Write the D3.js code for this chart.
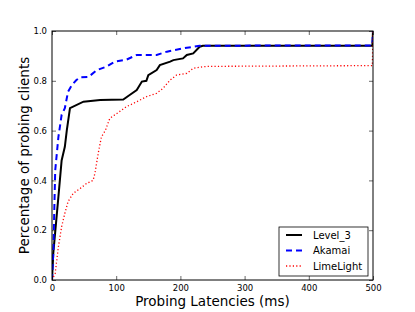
<!DOCTYPE html>
<html>
<head>
<meta charset="utf-8">
<script src="https://cdn.jsdelivr.net/npm/d3@7"></script>
<style>
  body { margin: 0; background: #fff; }
  text { font-family: "DejaVu Sans", sans-serif; }
</style>
</head>
<body>
<div id="chart"></div>
<script>
// latency (ms) and cumulative fraction
var level3X = [0, 2, 10, 15, 20, 23, 28, 49, 75, 111, 121, 132, 140, 147, 150, 163, 168, 184, 189, 204, 210, 220, 230, 235, 499, 500];
var level3Y = [0, 0.108, 0.335, 0.48, 0.535, 0.60, 0.69, 0.716, 0.723, 0.725, 0.743, 0.763, 0.797, 0.80, 0.823, 0.843, 0.863, 0.877, 0.883, 0.89, 0.904, 0.91, 0.937, 0.941, 0.941, 1.0];

var akamaiX = [0, 2, 5, 10, 15, 20, 25, 31, 38, 44, 57, 70, 85, 98, 116, 132, 163, 179, 204, 230, 499, 500];
var akamaiY = [0, 0.108, 0.44, 0.575, 0.663, 0.69, 0.756, 0.783, 0.803, 0.814, 0.816, 0.843, 0.857, 0.877, 0.885, 0.904, 0.904, 0.917, 0.93, 0.941, 0.942, 1.0];

var limeX = [0, 5, 10, 15, 20, 25, 33, 44, 54, 64, 67, 72, 77, 83, 90, 101, 116, 132, 147, 163, 173, 184, 194, 210, 220, 236, 246, 499, 500];
var limeY = [0, 0.027, 0.134, 0.214, 0.268, 0.315, 0.348, 0.368, 0.388, 0.40, 0.43, 0.509, 0.575, 0.60, 0.649, 0.669, 0.696, 0.716, 0.736, 0.75, 0.77, 0.803, 0.823, 0.83, 0.85, 0.857, 0.858, 0.861, 1.0];

var seriesNames = ["Level_3", "Akamai", "LimeLight"];
var xTicks = [0, 100, 200, 300, 400, 500];
var yTicks = [0.0, 0.2, 0.4, 0.6, 0.8, 1.0];

// set the dimensions and margins of the graph
var margin = {top: 31, right: 42, bottom: 32, left: 52},
    width = 415 - margin.left - margin.right,
    height = 312 - margin.top - margin.bottom;

var svg = d3.select("#chart")
  .append("svg")
    .attr("width", 415)
    .attr("height", 312)
  .append("g")
    .attr("transform", "translate(" + margin.left + "," + margin.top + ")");

var x = d3.scaleLinear().domain([0, 500]).range([0, width]);
var y = d3.scaleLinear().domain([0, 1]).range([height, 0]);

svg.append("defs").append("clipPath").attr("id", "clip")
  .append("rect").attr("width", width).attr("height", height);

// lines
var line = d3.line()
  .x(function(d) { return x(d[0]); })
  .y(function(d) { return y(d[1]); });

var series = [
  {name: seriesNames[0], data: d3.zip(level3X, level3Y), color: "#000000", dash: null, w: 2},
  {name: seriesNames[1], data: d3.zip(akamaiX, akamaiY), color: "#0000ff", dash: "6,4", w: 2},
  {name: seriesNames[2], data: d3.zip(limeX, limeY), color: "#ff0000", dash: "1.2,2.2", w: 1.3}
];

series.forEach(function(s) {
  svg.append("path")
    .datum(s.data)
    .attr("clip-path", "url(#clip)")
    .attr("fill", "none")
    .attr("stroke", s.color)
    .attr("stroke-width", s.w)
    .attr("stroke-dasharray", s.dash)
    .attr("d", line);
});

// axes, inward ticks on all sides
function styleAxis(g) {
  g.select(".domain").remove();
  g.selectAll("line").attr("stroke", "#000").attr("stroke-width", 0.6);
  g.selectAll("text").attr("font-size", "8.5px").attr("fill", "#000");
}

svg.append("g")
  .attr("transform", "translate(0," + height + ")")
  .call(d3.axisBottom(x).tickValues(xTicks).tickFormat(d3.format("d")).tickSizeInner(-4).tickSizeOuter(0).tickPadding(5))
  .call(styleAxis);
svg.append("g")
  .call(d3.axisTop(x).tickValues(xTicks).tickSizeInner(-4).tickSizeOuter(0).tickFormat(""))
  .call(styleAxis);
svg.append("g")
  .call(d3.axisLeft(y).tickValues(yTicks).tickFormat(d3.format(".1f")).tickSizeInner(-4).tickSizeOuter(0).tickPadding(5))
  .call(styleAxis);
svg.append("g")
  .attr("transform", "translate(" + width + ",0)")
  .call(d3.axisRight(y).tickValues(yTicks).tickSizeInner(-4).tickSizeOuter(0).tickFormat(""))
  .call(styleAxis);

// frame
svg.append("rect")
  .attr("width", width)
  .attr("height", height)
  .attr("fill", "none")
  .attr("stroke", "#000")
  .attr("stroke-width", 1);

// axis labels
svg.append("text")
  .attr("x", width / 2)
  .attr("y", height + 26)
  .attr("text-anchor", "middle")
  .attr("font-size", "13.5px")
  .text("Probing Latencies (ms)");

svg.append("text")
  .attr("transform", "rotate(-90)")
  .attr("x", -height / 2)
  .attr("y", -23)
  .attr("text-anchor", "middle")
  .attr("font-size", "13.5px")
  .text("Percentage of probing clients");

// legend
var legend = svg.append("g")
  .attr("transform", "translate(" + (279 - margin.left) + "," + (227 - margin.top) + ")");
legend.append("rect")
  .attr("width", 89)
  .attr("height", 49)
  .attr("fill", "#fff")
  .attr("stroke", "#000")
  .attr("stroke-width", 0.8);

series.forEach(function(s, i) {
  var ly = 8 + i * 15.5;
  legend.append("line")
    .attr("x1", 7).attr("x2", 23)
    .attr("y1", ly).attr("y2", ly)
    .attr("stroke", s.color)
    .attr("stroke-width", s.w)
    .attr("stroke-dasharray", s.dash);
  legend.append("text")
    .attr("x", 34)
    .attr("y", ly)
    .attr("dy", "0.35em")
    .attr("font-size", "10px")
    .text(s.name);
});
</script>
</body>
</html>
